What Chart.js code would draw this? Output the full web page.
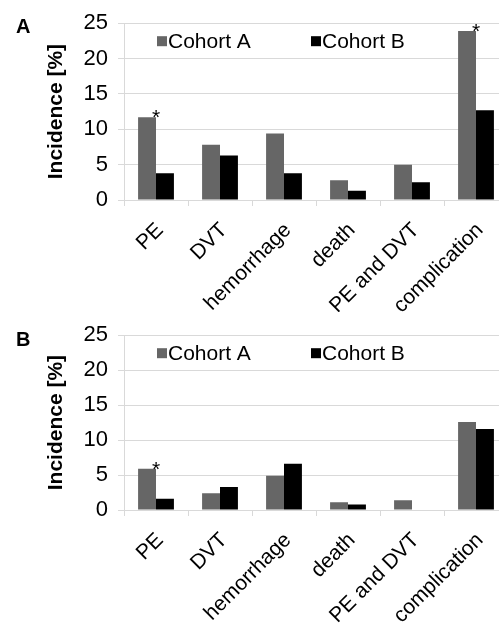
<!DOCTYPE html>
<html>
<head>
<meta charset="utf-8">
<script src="https://cdn.jsdelivr.net/npm/chart.js@4.4.1/dist/chart.umd.min.js"></script>
<style>
  html, body { margin: 0; padding: 0; background: #fff; }
  body { width: 499px; height: 624px; overflow: hidden; position: relative; font-family: "Liberation Sans", Arial, sans-serif; }
  .panel { position: absolute; left: 0; width: 516px; }
  .panel canvas { display: block; }
  .letter { position: absolute; left: 16px; font-weight: bold; font-size: 20px; line-height: 20px; }
</style>
</head>
<body>
<div class="panel" style="top:0"><canvas id="chartA" width="516" height="330"></canvas></div>
<div class="panel" style="top:312px"><canvas id="chartB" width="516" height="330"></canvas></div>
<div class="letter" style="top:16px">A</div>
<div class="letter" style="top:329px">B</div>
<script>
// --- data ---
const categories = ['PE', 'DVT', 'hemorrhage', 'death', 'PE and DVT', 'complication'];
const seriesNames = ['Cohort A', 'Cohort B'];
const panelA_cohortA = [11.7, 7.8, 9.4, 2.8, 5.0, 23.9];
const panelA_cohortB = [3.8, 6.3, 3.8, 1.3, 2.5, 12.7];
const panelB_cohortA = [5.9, 2.4, 4.9, 1.1, 1.4, 12.6];
const panelB_cohortB = [1.6, 3.3, 6.6, 0.8, 0, 11.6];
const panelA_stars = ['PE', 'complication'];   // significant, marked on Cohort A bar
const panelB_stars = ['PE'];
const yMax = 25;
const yStep = 5;

const FONT = '"Liberation Sans", Arial, sans-serif';
Chart.defaults.font.family = FONT;
Chart.defaults.color = '#000';

// legend drawn inside the plot, like the original
const insideLegend = {
  id: 'insideLegend',
  afterDraw(chart) {
    const { ctx, chartArea } = chart;
    const offsets = [33, 187];
    ctx.save();
    ctx.font = '21px ' + FONT;
    ctx.textBaseline = 'middle';
    chart.data.datasets.forEach((ds, i) => {
      const x = chartArea.left + offsets[i];
      const y = chartArea.top + 18;
      ctx.fillStyle = ds.backgroundColor;
      ctx.fillRect(x, y - 5, 10, 10);
      ctx.fillStyle = '#000';
      ctx.fillText(ds.label, x + 11, y + 1);
    });
    ctx.restore();
  }
};

// asterisks above significant Cohort A bars
const starMarks = {
  id: 'starMarks',
  afterDatasetsDraw(chart, args, opts) {
    const { ctx } = chart;
    const meta = chart.getDatasetMeta(0);
    ctx.save();
    ctx.font = '21px ' + FONT;
    ctx.fillStyle = '#000';
    ctx.textAlign = 'center';
    ctx.textBaseline = 'alphabetic';
    (opts.cats || []).forEach(c => {
      const bar = meta.data[categories.indexOf(c)];
      ctx.fillText('*', bar.x + bar.width / 2, bar.y + 7);
    });
    ctx.restore();
  }
};

function makePanel(id, dataA, dataB, stars, topPad, axisHeight) {
  return new Chart(document.getElementById(id), {
    type: 'bar',
    data: {
      labels: categories,
      datasets: [
        { label: seriesNames[0], data: dataA, backgroundColor: '#666666' },
        { label: seriesNames[1], data: dataB, backgroundColor: '#000000' }
      ]
    },
    options: {
      responsive: false,
      animation: false,
      layout: { padding: { top: topPad, right: 8, bottom: 18, left: 0 } },
      datasets: { bar: { barPercentage: 1, categoryPercentage: 0.56, borderWidth: 0 } },
      plugins: {
        legend: { display: false },
        tooltip: { enabled: false },
        starMarks: { cats: stars }
      },
      scales: {
        x: {
          grid: { display: true, drawOnChartArea: false, tickLength: 6, color: '#d9d9d9', offset: true },
          border: { color: '#d9d9d9' },
          ticks: { font: { size: 21 }, minRotation: 45, maxRotation: 45, padding: 12, labelOffset: 4, autoSkip: false },
          afterFit: s => { s.height = axisHeight; }
        },
        y: {
          min: 0, max: yMax,
          ticks: { stepSize: yStep, font: { size: 22 }, padding: 10 },
          grid: { color: '#d9d9d9', tickLength: 6 },
          border: { display: true, color: '#d9d9d9' },
          title: {
            display: true, text: 'Incidence [%]',
            font: { size: 21, weight: 'bold' },
            padding: { top: 44, bottom: 0 }
          },
          afterFit: s => { s.width = 124; }
        }
      }
    },
    plugins: [insideLegend, starMarks]
  });
}

makePanel('chartA', panelA_cohortA, panelA_cohortB, panelA_stars, 16, 112);
makePanel('chartB', panelB_cohortA, panelB_cohortB, panelB_stars, 20, 114);
</script>
</body>
</html>
